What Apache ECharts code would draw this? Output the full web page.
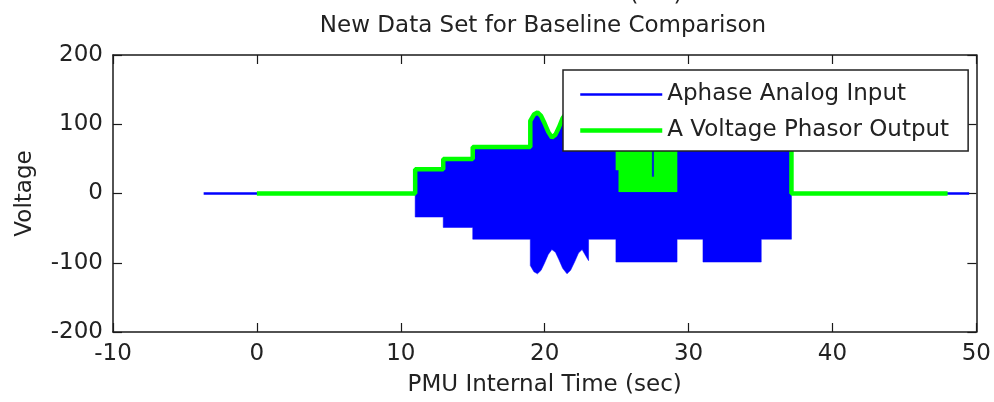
<!DOCTYPE html>
<html>
<head>
<meta charset="utf-8">
<script src="https://cdn.jsdelivr.net/npm/echarts@6/dist/echarts.min.js"></script>
<style>
html,body{margin:0;padding:0;background:#fff;}
#chart{width:994px;height:402px;}
</style>
</head>
<body>
<div id="chart"></div>
<script>
// ---- data ----
const xTicks = [-10, 0, 10, 20, 30, 40, 50];
const yTicks = [-200, -100, 0, 100, 200];

// Aphase Analog Input: flat trace at 0 outside the excited window
const analogT = [-3.7, 49.5];
const analogV = [0, 0];

// Envelope of the (dense, unresolved) analog sine wave
const envT  = [11, 12.95, 12.95, 15, 15, 19, 19, 19.25, 19.5, 19.75, 20, 20.25, 20.5, 20.75, 21, 21.25, 21.55, 21.8, 22.1, 22.35, 22.6, 22.85, 23.05, 23.05, 24.95, 24.95, 29.2, 29.2, 31, 31, 35.05, 35.05, 37.15];
const envHi = [34, 34, 49, 49, 66, 66, 104, 113, 116, 111, 100, 88, 80, 84, 95, 108, 116, 111, 98, 86, 80, 88, 96, 66, 66, 99, 99, 66, 66, 99, 99, 66, 66];
const envLo = [-34, -34, -49, -49, -66, -66, -104, -113, -116, -111, -100, -88, -81, -85, -96, -108, -116, -111, -98, -86, -81, -90, -97, -66, -66, -99, -99, -66, -66, -99, -99, -66, -66];

// A Voltage Phasor Output
const phasorT = [0, 11, 11, 12.95, 12.95, 15, 15, 19, 19, 19.25, 19.5, 19.75, 20, 20.25, 20.5, 20.75, 21, 21.25, 21.55, 21.8, 22.1, 22.35, 22.6, 22.85, 23.05, 23.05, 31, 31, 35.05, 35.05, 37.15, 37.15, 48];
const phasorV = [0, 0, 35, 35, 50, 50, 67, 67, 105, 114, 117, 112, 101, 89, 81, 85, 96, 109, 117, 112, 99, 87, 81, 89, 97, 67, 67, 100, 100, 67, 67, 0, 0];

// Rapidly oscillating phasor output between 25 and 29 s (band)
const gBandT  = [24.95, 25.15, 25.15, 27.45, 27.45, 27.6, 27.6, 29.2];
const gBandHi = [100, 100, 100, 100, 24, 24, 100, 100];
const gBandLo = [34, 34, 2, 2, 2, 2, 2, 2];

const FONT = 'DejaVu Sans';
const BLUE = '#0000ff';
const GREEN = '#00ff00';

function zip(a, b) { return a.map((v, i) => [v, b[i]]); }

function bandRenderer(T, Hi, Lo, color) {
  return function (params, api) {
    const pts = [];
    for (let i = 0; i < T.length; i++) pts.push(api.coord([T[i], Hi[i]]));
    for (let i = T.length - 1; i >= 0; i--) pts.push(api.coord([T[i], Lo[i]]));
    return { type: 'polygon', shape: { points: pts }, style: { fill: color, stroke: color, lineWidth: 0.5 } };
  };
}

const chart = echarts.init(document.getElementById('chart'));
const xMin = xTicks[0], xMax = xTicks[xTicks.length - 1], xInt = xTicks[1] - xTicks[0];
const yMin = yTicks[0], yMax = yTicks[yTicks.length - 1], yInt = yTicks[1] - yTicks[0];
const axisColor = '#1a1a1a';
const baseAxis = {
  type: 'value',
  axisLine: { show: true, onZero: false, lineStyle: { color: axisColor, width: 1.5 } },
  axisTick: { show: true, inside: true, length: 9, lineStyle: { color: axisColor, width: 1.2 } },
  splitLine: { show: false },
};

chart.setOption({
  animation: false,
  backgroundColor: '#fff',
  grid: { left: 113, right: 13, top: 55, bottom: 70 },
  graphic: [
    { type: 'text', x: 543, y: 26, style: { text: 'New Data Set for Baseline Comparison', font: '23px ' + FONT, fill: '#222', align: 'center', verticalAlign: 'middle' } },
    { type: 'text', x: 634, y: -5, style: { text: '(', font: '23px ' + FONT, fill: '#222', align: 'center', verticalAlign: 'middle' } },
    { type: 'text', x: 678, y: -5, style: { text: ')', font: '23px ' + FONT, fill: '#222', align: 'center', verticalAlign: 'middle' } }
  ],
  legend: {
    show: true,
    left: 563, top: 70,
    orient: 'vertical',
    padding: [13, 19, 9, 15],
    itemWidth: 82, itemHeight: 24, itemGap: 13,
    backgroundColor: '#fff',
    borderColor: '#222', borderWidth: 1.5,
    textStyle: { fontFamily: FONT, fontSize: 23, color: '#222' },
    data: [
      { name: 'Aphase Analog Input', itemStyle: { opacity: 0 }, lineStyle: { width: 2.5, color: BLUE, opacity: 1 } },
      { name: 'A Voltage Phasor Output', itemStyle: { opacity: 0 }, lineStyle: { width: 4.5, color: GREEN, opacity: 1 } }
    ]
  },
  xAxis: [
    Object.assign({}, baseAxis, {
      min: xMin, max: xMax, interval: xInt, position: 'bottom',
      axisLabel: { show: true, margin: 11, fontFamily: FONT, fontSize: 23, color: '#222' },
      name: 'PMU Internal Time (sec)', nameLocation: 'middle', nameGap: 42,
      nameTextStyle: { fontFamily: FONT, fontSize: 23, color: '#222' }
    }),
    Object.assign({}, baseAxis, {
      min: xMin, max: xMax, interval: xInt, position: 'top', axisLabel: { show: false }
    })
  ],
  yAxis: [
    Object.assign({}, baseAxis, {
      min: yMin, max: yMax, interval: yInt, position: 'left',
      axisLabel: { show: true, margin: 10, fontFamily: FONT, fontSize: 23, color: '#222' },
      name: 'Voltage', nameLocation: 'middle', nameGap: 76, nameRotate: 90,
      nameTextStyle: { fontFamily: FONT, fontSize: 23, color: '#222' }
    }),
    Object.assign({}, baseAxis, {
      min: yMin, max: yMax, interval: yInt, position: 'right', axisLabel: { show: false }
    })
  ],
  series: [
    {
      name: 'Aphase Analog Input', type: 'line', xAxisIndex: 0, yAxisIndex: 0,
      data: zip(analogT, analogV), showSymbol: false, symbol: 'none',
      lineStyle: { color: BLUE, width: 2.5 }, itemStyle: { color: BLUE }, z: 2
    },
    {
      name: 'analogEnvelope', type: 'custom', xAxisIndex: 0, yAxisIndex: 0,
      data: [[envT[0], 0]], renderItem: bandRenderer(envT, envHi, envLo, BLUE), silent: true, z: 2
    },
    {
      name: 'phasorBand', type: 'custom', xAxisIndex: 0, yAxisIndex: 0,
      data: [[gBandT[0], 0]], renderItem: bandRenderer(gBandT, gBandHi, gBandLo, GREEN), silent: true, z: 2
    },
    {
      name: 'A Voltage Phasor Output', type: 'line', xAxisIndex: 0, yAxisIndex: 0,
      data: zip(phasorT, phasorV), showSymbol: false, symbol: 'none',
      lineStyle: { color: GREEN, width: 4.5 }, itemStyle: { color: GREEN }, z: 2
    }
  ]
});
</script>
</body>
</html>
